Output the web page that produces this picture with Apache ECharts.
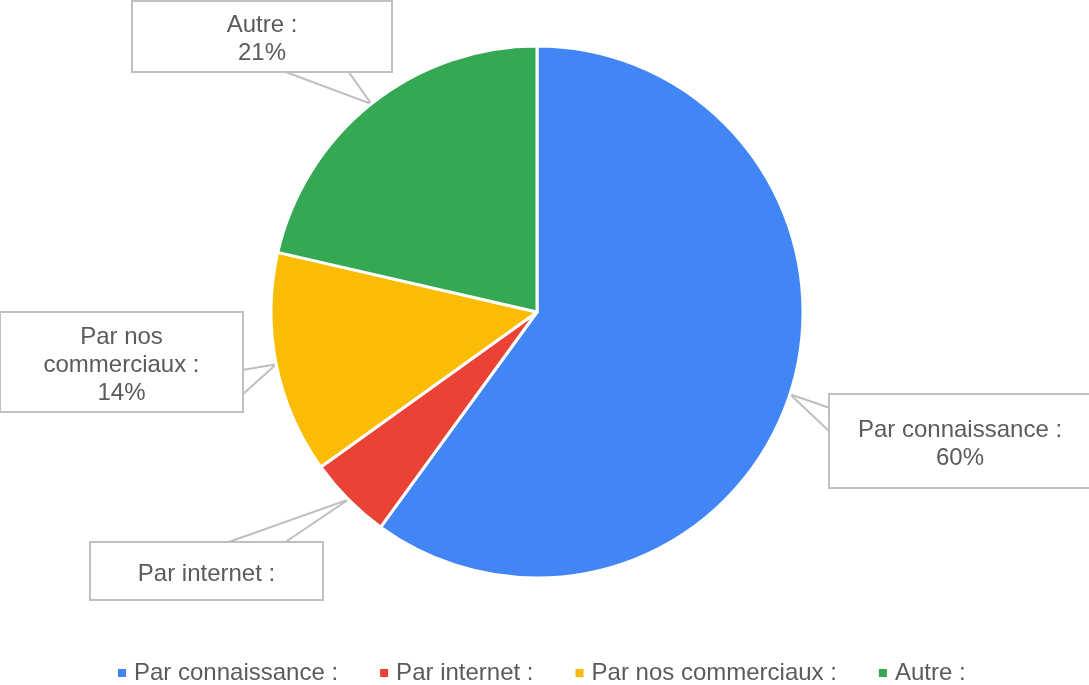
<!DOCTYPE html>
<html>
<head>
<meta charset="utf-8">
<script src="https://cdn.jsdelivr.net/npm/echarts@6/dist/echarts.min.js"></script>
<style>
html,body{margin:0;padding:0;background:#fff;}
#chart{width:1089px;height:685px;}
</style>
</head>
<body>
<div id="chart"></div>
<script>
// ---- data ----
const categories = ['Par connaissance :', 'Par internet :', 'Par nos commerciaux :', 'Autre :'];
const values = [60.0, 5.1, 13.5, 21.4];
const labelTemplates = ['Par connaissance :\n{d}%', 'Par internet :', 'Par nos\ncommerciaux :\n{d}%', 'Autre :\n{d}%'];
const colors = ['#4285F4', '#EA4335', '#FBBC04', '#34A853'];

// ---- label box layout (styles) ----
const LINE_H = 28;
const TEXT_SHIFT = 3;
const labelBoxes = [
  {cx: 960,   cy: 441,  w: 260, h: 92, side: 'left',   a: 13,  b: 37},
  {cx: 206.5, cy: 571,  w: 231, h: 56, side: 'top',    a: 135, b: 193},
  {cx: 121.5, cy: 362,  w: 241, h: 98, side: 'right',  a: 57,  b: 82},
  {cx: 262,   cy: 36.5, w: 258, h: 69, side: 'bottom', a: 150, b: 215}
];

const data = categories.map(function (name, i) {
  const lines = labelTemplates[i].split('\n').length;
  const box = labelBoxes[i];
  const pv = (box.h - lines * LINE_H) / 2;
  return {
    name: name,
    value: values[i],
    itemStyle: {color: colors[i]},
    label: {
      formatter: labelTemplates[i],
      width: box.w,
      padding: [pv + TEXT_SHIFT, 0, pv - TEXT_SHIFT, 0]
    }
  };
});

const legendData = categories.map(function (name, i) {
  return i === 0 ? {name: name, textStyle: {padding: [0, 9, 0, 2]}} : {name: name};
});

const chart = echarts.init(document.getElementById('chart'), null, {renderer: 'canvas'});
chart.setOption({
  animation: false,
  backgroundColor: '#ffffff',
  legend: {
    data: legendData,
    left: 116,
    top: 661,
    padding: 0,
    itemGap: 40,
    itemWidth: 10,
    itemHeight: 10,
    icon: 'rect',
    selectedMode: false,
    textStyle: {
      fontSize: 24,
      color: '#5b5b5b',
      fontFamily: 'Liberation Sans, Arial, sans-serif',
      padding: [0, 0, 0, 2]
    }
  },
  series: [{
    type: 'pie',
    center: [537, 312],
    radius: 266,
    startAngle: 90,
    clockwise: true,
    percentPrecision: 0,
    avoidLabelOverlap: false,
    itemStyle: {borderColor: '#ffffff', borderWidth: 3},
    label: {
      show: true,
      position: 'outside',
      fontSize: 24,
      lineHeight: LINE_H,
      color: '#5b5b5b',
      fontFamily: 'Liberation Sans, Arial, sans-serif',
      align: 'center',
      verticalAlign: 'top',
      backgroundColor: '#ffffff',
      borderColor: '#bfbfbf',
      borderWidth: 2
    },
    labelLine: {
      show: true,
      length: 10,
      length2: 10,
      lineStyle: {color: '#bfbfbf', width: 2}
    },
    emphasis: {disabled: true},
    labelLayout: function (params) {
      const b = labelBoxes[params.dataIndex];
      const left = b.cx - b.w / 2;
      const top = b.cy - b.h / 2;
      let A, B;
      if (b.side === 'left') { A = [left, top + b.a]; B = [left, top + b.b]; }
      else if (b.side === 'right') { A = [left + b.w, top + b.a]; B = [left + b.w, top + b.b]; }
      else if (b.side === 'top') { A = [left + b.a, top]; B = [left + b.b, top]; }
      else { A = [left + b.a, top + b.h]; B = [left + b.b, top + b.h]; }
      const res = {x: b.cx, y: top, align: 'center', verticalAlign: 'top'};
      if (params.labelLinePoints && params.labelLinePoints.length) {
        const tip = params.labelLinePoints[0];
        res.labelLinePoints = [A, [tip[0], tip[1]], B];
      }
      return res;
    },
    data: data
  }]
});
</script>
</body>
</html>
